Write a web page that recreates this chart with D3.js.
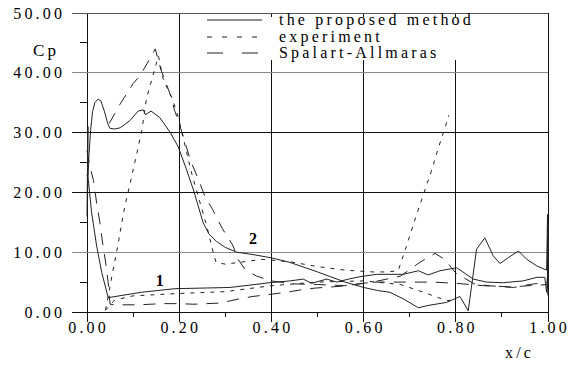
<!DOCTYPE html>
<html>
<head>
<meta charset="utf-8">
<script src="https://cdn.jsdelivr.net/npm/d3@7"></script>
<style>
  html, body { margin: 0; padding: 0; background: #fff; }
  svg { display: block; }
  svg text { font-family: "Liberation Serif", "DejaVu Serif", Times, serif; }
</style>
</head>
<body>
<svg id="chart" width="569" height="371"></svg>
<script>
// Pressure coefficient along the chord: three methods, upper and lower surface
const xTicks = [0, 0.2, 0.4, 0.6, 0.8, 1.0];
const xMinorTicks = [0.1, 0.3, 0.5, 0.7, 0.9];
const yTicks = [0, 10, 20, 30, 40, 50];
const yMinorTicks = [5, 15, 25, 35, 45];
const seriesNames = ["the proposed method", "experiment", "Spalart-Allmaras"];

const proposedUpper = [
  [0.000,16.0],[0.002,31.0],[0.001,20.0],[0.004,26.0],[0.008,30.5],[0.012,33.5],[0.017,35.0],
  [0.024,35.6],[0.030,35.3],[0.038,33.5],[0.045,31.5],[0.050,30.7],[0.060,30.6],[0.072,30.8],
  [0.093,32.0],[0.111,33.6],[0.122,33.8],[0.127,33.0],[0.139,33.6],[0.158,32.5],[0.180,30.1],
  [0.198,27.6],[0.215,24.0],[0.231,20.4],[0.252,14.9],[0.265,13.0],[0.281,11.8],[0.300,10.8],
  [0.325,10.0],[0.360,9.6],[0.397,9.1],[0.440,8.3],[0.500,6.7],[0.560,5.0],[0.600,4.1],
  [0.630,3.6],[0.657,3.3],[0.686,2.2],[0.719,0.7],[0.740,1.1],[0.780,1.6],[0.809,2.6],
  [0.827,0.2],[0.845,10.5],[0.863,12.4],[0.881,9.4],[0.896,8.1],[0.914,9.1],[0.936,10.2],
  [0.954,8.8],[0.976,7.7],[0.997,7.0],[0.999,16.3],[1.000,2.8],[1.001,15.0],[0.999,4.0],
  [1.000,12.0]
];
const proposedLower = [
  [0.000,23.0],[0.003,22.0],[0.010,16.6],[0.021,11.0],[0.032,6.6],[0.046,2.4],[0.118,3.3],
  [0.191,3.9],[0.310,4.1],[0.397,4.9],[0.440,5.2],[0.469,5.5],[0.487,4.8],[0.520,5.5],
  [0.542,5.0],[0.567,5.5],[0.592,5.9],[0.628,6.3],[0.686,6.3],[0.719,6.9],[0.740,6.2],
  [0.766,6.9],[0.802,7.4],[0.838,5.5],[0.867,5.0],[0.903,4.9],[0.946,5.2],[0.976,5.8],
  [0.993,5.8],[0.997,3.3],[1.000,8.0]
];
const experimentUpper = [
  [0.040,0.3],[0.047,3.0],[0.054,6.0],[0.064,9.9],[0.082,17.7],[0.093,21.3],[0.108,26.5],
  [0.119,30.4],[0.129,35.7],[0.144,39.8],[0.155,42.8],[0.166,38.7],[0.184,35.9],[0.198,32.6],
  [0.227,23.2],[0.260,14.3],[0.274,9.9],[0.280,8.3],[0.300,8.0],[0.330,8.3],[0.380,8.8],
  [0.440,8.4],[0.500,7.6],[0.560,7.0],[0.620,6.7],[0.650,6.7],[0.675,6.9],[0.693,11.0],
  [0.715,16.3],[0.733,20.4],[0.748,23.8],[0.762,27.4],[0.777,30.9],[0.785,32.9]
];
const experimentLower = [
  [0.040,0.3],[0.060,2.0],[0.100,2.7],[0.200,3.1],[0.300,3.4],[0.400,4.4],[0.500,5.0],
  [0.600,5.2],[0.680,4.6],[0.730,3.3],[0.780,1.9],[0.800,2.0]
];
const saUpper = [
  [0.048,31.5],[0.072,34.8],[0.086,36.5],[0.100,38.2],[0.115,39.5],[0.130,41.5],[0.148,44.0],
  [0.160,40.6],[0.168,39.0],[0.180,36.5],[0.190,33.7],[0.198,32.0],[0.211,28.8],[0.225,25.2],
  [0.240,22.5],[0.256,19.3],[0.272,17.2],[0.294,13.9],[0.316,11.2],[0.328,8.8],[0.343,7.1],
  [0.368,6.0],[0.400,5.2],[0.448,4.7],[0.500,4.6],[0.560,4.4],[0.620,5.0],[0.680,6.0],
  [0.722,8.3],[0.755,9.8],[0.776,8.8],[0.800,6.5],[0.840,4.7],[0.870,4.4],[0.925,4.1],
  [0.960,4.6],[1.000,5.0]
];
const saLower = [
  [0.000,27.0],[0.006,24.5],[0.014,22.0],[0.021,18.2],[0.028,14.9],[0.034,11.5],[0.041,8.0],
  [0.046,4.9],[0.050,1.3],[0.064,1.2],[0.110,1.2],[0.165,1.4],[0.196,1.4],[0.232,1.3],
  [0.290,1.5],[0.330,2.2],[0.360,2.6],[0.424,3.2],[0.464,3.7],[0.495,4.0],[0.550,4.3],
  [0.620,5.0],[0.750,5.0],[0.800,4.8],[0.860,4.4],[0.920,4.2],[1.000,4.6]
];
const surfaceLabels = [
  { text: "1", x: 0.158, y: 5.3 },
  { text: "2", x: 0.360, y: 12.3 }
];

const svg = d3.select("#chart");
const x = d3.scaleLinear().domain([0, 1]).range([87, 548]);
const y = d3.scaleLinear().domain([0, 50]).range([312, 13]);

const FONT = 16, SPACING = 3.2;
const SERIF = "'Liberation Serif', 'DejaVu Serif', Times, serif";

// grid
const grid = svg.append("g");
grid.selectAll(".vgrid").data(xTicks).join("line")
  .attr("x1", d => x(d)).attr("x2", d => x(d))
  .attr("y1", y(50)).attr("y2", y(0) + 10)
  .attr("stroke", "#111").attr("stroke-width", 1).attr("shape-rendering", "crispEdges");
grid.selectAll(".vminor").data(xMinorTicks).join("line")
  .attr("x1", d => x(d)).attr("x2", d => x(d))
  .attr("y1", y(0)).attr("y2", y(0) + 5)
  .attr("stroke", "#111").attr("shape-rendering", "crispEdges");
grid.selectAll(".hgrid").data(yTicks).join("line")
  .attr("x1", x(0) - 15).attr("x2", x(1))
  .attr("y1", d => y(d)).attr("y2", d => y(d))
  .attr("stroke", d => (d === 10 || d === 40) ? "#888" : (d === 50 ? "#555" : "#111"))
  .attr("stroke-width", 1).attr("shape-rendering", "crispEdges");
grid.selectAll(".hminor").data(yMinorTicks).join("line")
  .attr("x1", x(0) - 7).attr("x2", x(0))
  .attr("y1", d => y(d)).attr("y2", d => y(d))
  .attr("stroke", "#111").attr("shape-rendering", "crispEdges");

// tick labels
svg.append("g").selectAll("text").data(yTicks).join("text")
  .attr("x", 62 + SPACING).attr("y", d => y(d)).attr("dy", "0.35em")
  .attr("text-anchor", "end").attr("font-size", FONT).attr("letter-spacing", SPACING)
  .text(d => d3.format(".2f")(d));
svg.append("g").selectAll("text").data(xTicks).join("text")
  .attr("x", d => x(d) + SPACING / 2).attr("y", 333)
  .attr("text-anchor", "middle").attr("font-size", FONT).attr("letter-spacing", SPACING)
  .text(d => d3.format(".2f")(d));
svg.append("text").attr("x", 33).attr("y", 56).attr("font-size", 17)
  .attr("letter-spacing", SPACING).text("Cp");
svg.append("text").attr("x", 505).attr("y", 358).attr("font-size", FONT)
  .attr("letter-spacing", SPACING).text("x/c");

// legend panel
const legend = svg.append("g");
legend.append("rect").attr("x", 200).attr("y", 17).attr("width", 347).attr("height", 43)
  .attr("fill", "#fff");

// curves
const line = d3.line().x(d => x(d[0])).y(d => y(d[1]));
const styles = [
  { data: [proposedUpper, proposedLower], dash: null },
  { data: [experimentUpper, experimentLower], dash: "4,6" },
  { data: [saUpper, saLower], dash: "12,9" }
];
const curves = svg.append("g").attr("fill", "none");
styles.forEach(s => {
  s.data.forEach(arr => {
    curves.append("path").datum(arr).attr("d", line)
      .attr("stroke", "#222").attr("stroke-width", 1)
      .attr("stroke-dasharray", s.dash);
  });
});

// legend entries
const legendDash = [null, "5,10", "16,19"];
const rowsY = [20, 37, 53];
seriesNames.forEach((name, i) => {
  legend.append("line").attr("x1", 207).attr("x2", 262)
    .attr("y1", rowsY[i]).attr("y2", rowsY[i])
    .attr("stroke", "#222").attr("stroke-dasharray", legendDash[i]);
  legend.append("text").attr("x", 279).attr("y", rowsY[i]).attr("dy", "0.32em")
    .attr("font-size", FONT).attr("letter-spacing", SPACING).text(name);
});

// surface markers
svg.append("g").selectAll("text").data(surfaceLabels).join("text")
  .attr("x", d => x(d.x)).attr("y", d => y(d.y)).attr("dy", "0.35em")
  .attr("text-anchor", "middle").attr("font-size", FONT).attr("font-weight", "bold")
  .text(d => d.text);

svg.selectAll("text").style("font-family", SERIF);
</script>
</body>
</html>
